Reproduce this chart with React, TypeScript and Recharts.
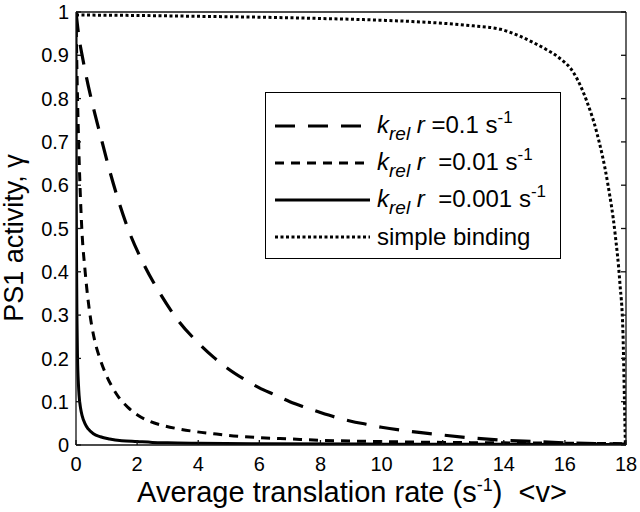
import React from 'react';
import { LineChart, Line, XAxis, YAxis, Legend } from 'recharts';

// ---------- data ----------
const xTicks = [0, 2, 4, 6, 8, 10, 12, 14, 16, 18];
const yTicks = [0, 0.1, 0.2, 0.3, 0.4, 0.5, 0.6, 0.7, 0.8, 0.9, 1];
const yTickLabels = ['0', '0.1', '0.2', '0.3', '0.4', '0.5', '0.6', '0.7', '0.8', '0.9', '1'];

const rateLabels = ['0.1', '0.01', '0.001'];
const simpleLabel = 'simple binding';

// k_rel r = 0.1 s^-1
const rate01X = [0, 0.1, 0.2, 0.4, 0.6, 0.8, 1.0, 1.3, 1.7, 2.2, 2.75, 3.37, 4.0, 4.5, 5.0, 5.5, 6.0, 6.5, 7.0, 7.5, 8.0, 8.5, 9.0, 9.5, 10, 11, 12, 13, 14, 15, 16, 17, 18];
const rate01Y = [1, 0.94, 0.9, 0.83, 0.77, 0.715, 0.66, 0.585, 0.5, 0.42, 0.35, 0.285, 0.236, 0.203, 0.175, 0.152, 0.132, 0.116, 0.1, 0.087, 0.075, 0.064, 0.055, 0.048, 0.041, 0.031, 0.023, 0.016, 0.011, 0.008, 0.005, 0.003, 0.002];

// k_rel r = 0.01 s^-1
const rate001X = [0, 0.022, 0.05, 0.086, 0.13, 0.19, 0.3, 0.46, 0.6, 0.8, 1.0, 1.2, 1.4, 1.7, 2.0, 2.4, 2.85, 3.3, 3.8, 4.5, 5, 6, 7, 8, 10, 12, 14, 16, 18];
const rate001Y = [1, 0.9, 0.8, 0.7, 0.6, 0.5, 0.4, 0.3, 0.245, 0.196, 0.16, 0.132, 0.11, 0.087, 0.07, 0.055, 0.045, 0.038, 0.032, 0.026, 0.022, 0.017, 0.014, 0.011, 0.008, 0.006, 0.005, 0.004, 0.003];

// k_rel r = 0.001 s^-1
const rate0001X = [0, 0.002, 0.005, 0.01, 0.02, 0.03, 0.05, 0.08, 0.1, 0.15, 0.2, 0.29, 0.4, 0.57, 0.8, 1.1, 1.5, 2.0, 2.5, 3, 4, 6, 10, 14, 18];
const rate0001Y = [1, 0.85, 0.7, 0.55, 0.4, 0.3, 0.2, 0.14, 0.115, 0.085, 0.068, 0.05, 0.037, 0.026, 0.019, 0.014, 0.01, 0.008, 0.006, 0.005, 0.004, 0.003, 0.002, 0.0015, 0.001];

// simple binding
const simpleX = [0, 2, 4, 6, 8, 10, 11, 12, 13, 13.9, 14.5, 14.95, 15.4, 15.8, 16.3, 16.7, 17.05, 17.4, 17.64, 17.8, 17.9, 17.95, 17.98];
const simpleY = [0.993, 0.992, 0.99, 0.988, 0.985, 0.981, 0.978, 0.974, 0.968, 0.96, 0.945, 0.93, 0.913, 0.895, 0.858, 0.797, 0.72, 0.605, 0.49, 0.374, 0.26, 0.1, 0];

const zip = (xs: number[], ys: number[]) => xs.map((x, i) => ({ x, y: ys[i] }));

const FONT = '"Liberation Sans", Arial, Helvetica, sans-serif';

const series = [
  { key: 'r01', data: zip(rate01X, rate01Y), dash: '20 13', width: 3.2, rate: rateLabels[0], pad: ' ' },
  { key: 'r001', data: zip(rate001X, rate001Y), dash: '9 7', width: 3, rate: rateLabels[1], pad: '  ' },
  { key: 'r0001', data: zip(rate0001X, rate0001Y), dash: undefined, width: 3, rate: rateLabels[2], pad: '  ' },
  { key: 'simple', data: zip(simpleX, simpleY), dash: '3 2.5', width: 3, rate: null, pad: '' },
];

const XTitle = () => (
  <text x={352} y={502} textAnchor="middle" fontSize={29} fontFamily={FONT} fill="#000" style={{ whiteSpace: 'pre' }}>
    Average translation rate (s<tspan dy={-11} fontSize={18}>-1</tspan>
    <tspan dy={11}>)  &lt;v&gt;</tspan>
  </text>
);

const YTitle = () => (
  <text x={23} y={238} transform="rotate(-90, 23, 238)" textAnchor="middle" fontSize={27} fontFamily={FONT} fill="#000">
    PS1 activity, γ
  </text>
);

const renderLegend = () => (
  <div
    style={{
      border: '1.5px solid #000',
      background: '#fff',
      width: 296,
      height: 167,
      boxSizing: 'border-box',
      paddingTop: 14,
      fontFamily: FONT,
      fontSize: 24,
      color: '#000',
    }}
  >
    {series.map((s) => (
      <div key={s.key} style={{ display: 'flex', alignItems: 'center', height: 37 }}>
        <svg width={95} height={20} style={{ marginLeft: 9, flex: 'none' }}>
          <line x1={0} y1={10} x2={95} y2={10} stroke="#000" strokeWidth={s.width} strokeDasharray={s.dash} />
        </svg>
        <span style={{ marginLeft: 7, whiteSpace: 'pre', lineHeight: '24px' }}>
          {s.rate === null ? (
            simpleLabel
          ) : (
            <>
              <i>k</i>
              <sub style={{ fontSize: 19, verticalAlign: -7 }}><i>rel</i></sub>
              <i> r</i>
              {s.pad}={s.rate} s<sup style={{ fontSize: 17, verticalAlign: 10 }}>-1</sup>
            </>
          )}
        </span>
      </div>
    ))}
  </div>
);

export default function App() {
  const axisStroke = { stroke: '#111', strokeWidth: 1.3 };
  const tickStyle = { fontSize: 20, fontFamily: FONT, fill: '#000' };
  return (
    <div style={{ position: 'absolute', left: 0, top: 0, background: '#fff' }}>
      <LineChart width={640} height={512} margin={{ top: 11, right: 13, bottom: 0, left: 0 }}>
        <XAxis
          dataKey="x"
          type="number"
          domain={[0, 18]}
          ticks={xTicks}
          allowDataOverflow
          height={67}
          tickSize={-5}
          tickMargin={17}
          axisLine={axisStroke}
          tickLine={axisStroke}
          tick={tickStyle}
          label={<XTitle />}
        />
        <XAxis
          xAxisId="top"
          orientation="top"
          type="number"
          domain={[0, 18]}
          ticks={xTicks}
          allowDataOverflow
          height={1}
          tickSize={-5}
          axisLine={axisStroke}
          tickLine={axisStroke}
          tickFormatter={() => ''}
        />
        <YAxis
          type="number"
          domain={[0, 1]}
          ticks={yTicks}
          allowDataOverflow
          width={76}
          tickSize={-5}
          tickMargin={12}
          axisLine={axisStroke}
          tickLine={axisStroke}
          tick={tickStyle}
          tickFormatter={(v: number, i: number) => yTickLabels[i]}
          label={<YTitle />}
        />
        <YAxis
          yAxisId="right"
          orientation="right"
          type="number"
          domain={[0, 1]}
          ticks={yTicks}
          allowDataOverflow
          width={1}
          tickSize={-5}
          axisLine={axisStroke}
          tickLine={axisStroke}
          tickFormatter={() => ''}
        />
        {series.map((s) => (
          <Line
            key={s.key}
            data={s.data}
            dataKey="y"
            type="monotone"
            stroke="#000"
            strokeWidth={s.width}
            strokeDasharray={s.dash}
            dot={false}
            activeDot={false}
            isAnimationActive={false}
          />
        ))}
        <Legend
          layout="vertical"
          align="center"
          verticalAlign="middle"
          content={renderLegend}
          wrapperStyle={{ left: 265, top: 92, width: 296, height: 167 }}
        />
      </LineChart>
    </div>
  );
}
